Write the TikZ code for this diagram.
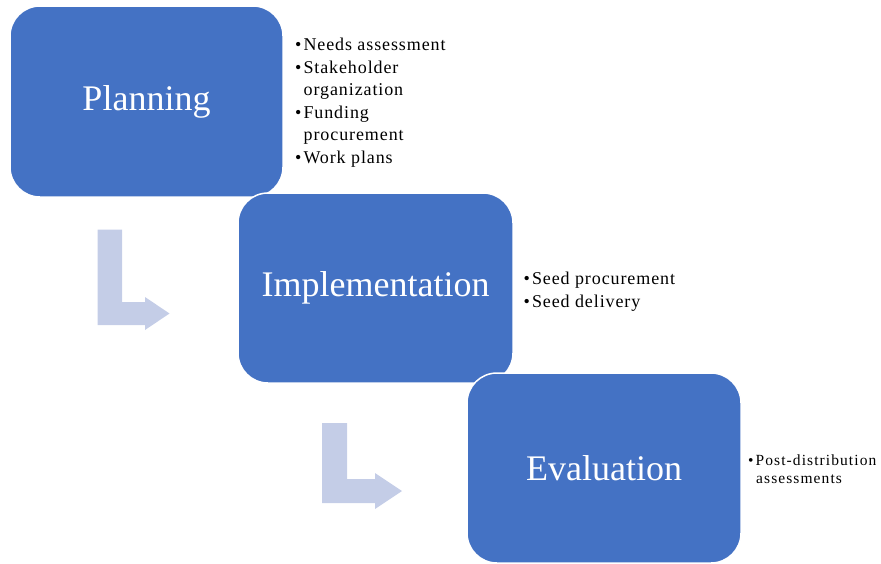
\documentclass[tikz,border=0pt]{standalone}
\usepackage{fontspec}
\setmainfont{Liberation Serif}
\newfontfamily\listfont[LetterSpace=5]{Liberation Serif}
\newfontfamily\smalllistfont[LetterSpace=7]{Liberation Serif}
\definecolor{stageblue}{RGB}{68,114,196}
\definecolor{arrowblue}{RGB}{196,205,231}
\begin{document}
\begin{tikzpicture}[x=1pt,y=-1pt,
  stage/.style={fill=stageblue, draw=white, line width=1.5pt,
    rounded corners=30pt, text=white, inner sep=0pt,
    font=\fontsize{36}{40}\selectfont},
  bullettext/.style={anchor=base west, inner sep=0pt, text=black,
    font=\listfont\fontsize{18}{22}\selectfont},
  smallbullettext/.style={anchor=base west, inner sep=0pt, text=black,
    font=\smalllistfont\fontsize{15.5}{18}\selectfont},
  bentarrow/.style={fill=arrowblue, draw=none}]
\useasboundingbox (0,0) rectangle (881,563);

% stage boxes, each one laid over the previous
\node[stage, minimum width=273pt, minimum height=191pt] (plan) at (146.5,101.5) {Planning};
\node[stage, minimum width=275pt, minimum height=190pt] (impl) at (375.5,288) {Implementation};
\node[stage, minimum width=274pt, minimum height=190pt] (eval) at (604,468) {Evaluation};

% bent arrows between the stages
\fill[bentarrow] (97.5,229.5) -- (122,229.5) -- (122,302) -- (145,302) -- (145,297)
  -- (169.5,313.5) -- (145,330) -- (145,325) -- (97.5,325) -- cycle;
\fill[bentarrow] (322,423) -- (347,423) -- (347,479) -- (375,479) -- (375,473)
  -- (402,491) -- (375,509) -- (375,503) -- (322,503) -- cycle;

% planning tasks
\node[bullettext] (p1) at (295,50) {\textbullet\hspace{2pt}Needs assessment};
\node[bullettext] (p2) at (295,73) {\textbullet\hspace{2pt}Stakeholder};
\node[bullettext] (p2b) at (303.5,95.5) {organization};
\node[bullettext] (p3) at (295,118) {\textbullet\hspace{2pt}Funding};
\node[bullettext] (p3b) at (303.5,140.5) {procurement};
\node[bullettext] (p4) at (295,163) {\textbullet\hspace{2pt}Work plans};

% implementation tasks
\node[bullettext] (i1) at (523.5,284) {\textbullet\hspace{2pt}Seed procurement};
\node[bullettext] (i2) at (523.5,307) {\textbullet\hspace{2pt}Seed delivery};

% evaluation tasks
\node[smallbullettext] (e1) at (748,465) {\textbullet\hspace{2pt}Post-distribution};
\node[smallbullettext] (e1b) at (756,483) {assessments};
\end{tikzpicture}
\end{document}
